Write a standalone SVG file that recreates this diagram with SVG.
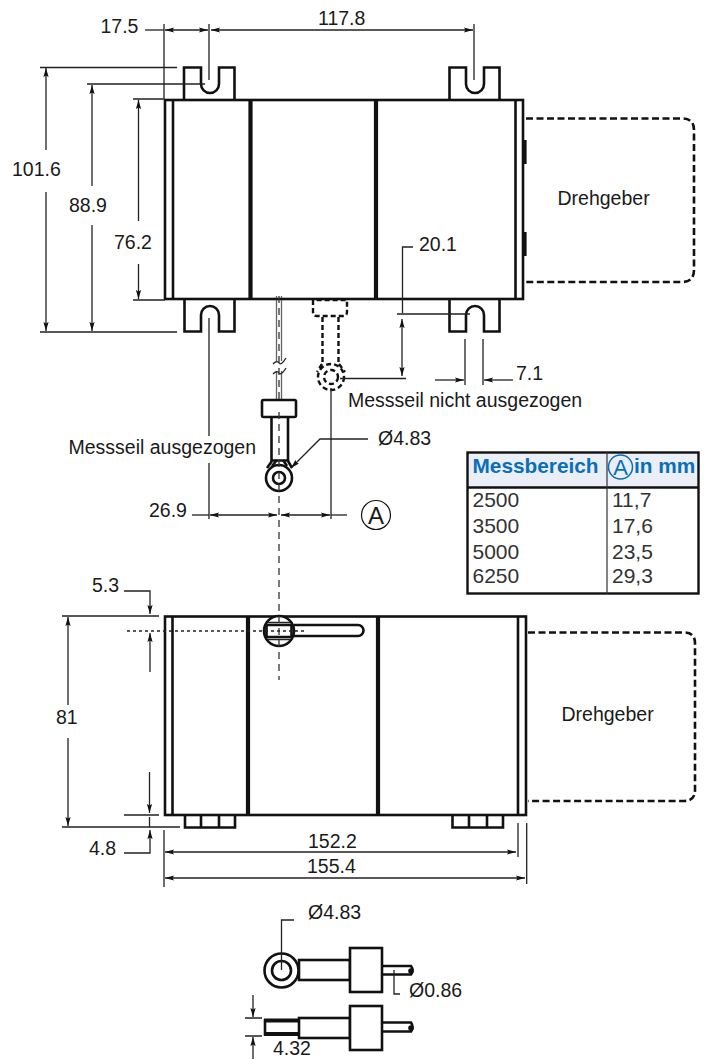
<svg xmlns="http://www.w3.org/2000/svg" width="705" height="1059" viewBox="0 0 705 1059">
<defs>
<marker id="arr" markerUnits="userSpaceOnUse" markerWidth="10" markerHeight="7" refX="9" refY="3.5" orient="auto-start-reverse"><path d="M0 .9L9 3.5L0 6.100L1.500 3.500Z" fill="#111"/></marker>
</defs>
<style>
text{font-family:"Liberation Sans",Arial,sans-serif;font-size:19.500px;fill:#1a1a1a}
.b{fill:#fff;stroke:#111;stroke-width:2.6;stroke-linejoin:miter}
.o{fill:none;stroke:#111;stroke-width:2.6}
.t{fill:none;stroke:#111;stroke-width:4.2}
.d{fill:none;stroke:#111;stroke-width:2.6;stroke-dasharray:7 3.5}
.dd{fill:none;stroke:#111;stroke-width:2.4;stroke-dasharray:5 3}
.l{fill:none;stroke:#222;stroke-width:1.3}
.c{fill:none;stroke:#333;stroke-width:1.3;stroke-dasharray:7 5}
.a{marker-end:url(#arr)}
.s{marker-start:url(#arr)}
.th{font-weight:bold;fill:#0a6fb7;font-size:20.800px}
.v{font-size:21px;fill:#333}
</style>
<rect width="705" height="1059" fill="#fff"/>

<g id="top-view">
<path class="b" d="M184 100V67.5H201V84A9 9 0 0 0 219 84V67.5H234.5V100"/>
<path class="b" d="M449.500 100V67.500H466V84A9 9 0 0 0 484 84V67.500H499.500V100"/>
<path class="b" d="M184.500 299V331.500H201V315A9 9 0 0 1 219 315V331.500H234.500V299"/>
<path class="b" d="M449.500 299V331.500H466V315A9 9 0 0 1 484 315V331.500H499.500V299"/>
<rect class="b" x="165" y="100" width="358" height="199"/>
<path class="o" d="M173 100V299M515.500 100V299"/>
<path class="t" d="M250.500 100V299M376 100V299"/>
<path class="t" d="M524.500 140V164M524.500 232V256"/>
</g>
<g id="encoder-top"><path class="d" d="M526 118.500H682Q694 118.500 694 130V270Q694 282 682 282H526"/><text x="557.500" y="205">Drehgeber</text></g>

<g id="cable-extended">
<path d="M276.500 296V361M276.500 371V400M281.500 296V361M281.500 371V400" class="l" stroke-opacity=".7"/>
<path class="l" d="M273 364Q277 360 279 363T286 358M273 374Q277 370 279 373T286 368"/>
<rect class="b" x="262" y="400" width="34" height="17" rx="1.500"/>
<path class="o" d="M271.500 417V460.500H288V417"/>
<path class="o" d="M272 461L267 468M288 461L292 468M277 460L272 466M283 460L287 466"/>
<circle class="b" cx="279" cy="478" r="13"/>
<circle class="o" cx="279" cy="478" r="6"/>
</g>
<g id="cable-retracted">
<path class="dd" d="M313 300V312Q313 316 317 316H343Q347 316 347 312V300H313"/>
<path class="dd" d="M322.500 317V362M338.500 317V362M322 364L317 372M339 364L345 372"/>
<circle class="dd" cx="331" cy="377" r="13"/>
<circle class="dd" cx="331" cy="377" r="7" stroke-dasharray="3.500 2.500"/>
</g>

<g id="side-view">
<path class="b" d="M185 815V827.500H235V815M452.500 815V827.500H503V815"/>
<path class="o" d="M201 815V827M219 815V827M469 815V827M487 815V827"/>
<rect class="b" x="165" y="616.500" width="361" height="198.500"/>
<path class="o" d="M172.500 616V815M518 616V815"/>
<path class="t" d="M248 616V815M378 616V815"/>
<circle class="b" cx="279" cy="631" r="15"/>
<path class="o" d="M294 625H358A5.500 5.500 0 0 1 358 636H294"/>
<path class="o" d="M266 625H292M266 637H292M266.500 625V637M291.500 625V637"/>
<path class="l" d="M268 622.500H290M268 639.500H290"/>
</g>
<g id="encoder-side"><path class="d" d="M528 632.500H684Q695 632.500 695 643V790Q695 801 684 801H528"/><text x="561.500" y="721">Drehgeber</text></g>

<g id="eyelet-top">
<rect class="b" x="299" y="960" width="51" height="20"/>
<rect class="b" x="350" y="948" width="32" height="44"/>
<path class="o" d="M382 966H411Q414 970 411 974.500H382"/>
<circle cx="411" cy="971" r="2.800" fill="#111"/>
<circle class="b" cx="281.500" cy="970.500" r="17"/>
<circle class="o" cx="281.500" cy="970.500" r="9.500"/>
</g>
<g id="eyelet-side">
<path class="t" d="M264 1020.500H299M264 1034H299"/>
<path class="o" d="M265 1019V1036"/>
<rect class="b" x="299" y="1018" width="51" height="20"/>
<rect class="b" x="350" y="1006" width="32" height="44"/>
<path class="o" d="M382 1022.500H411Q414 1027 411 1031.500H382"/>
<circle cx="411" cy="1028" r="2.800" fill="#111"/>
</g>

<g id="connectors">
<path class="l" d="M164 24V98M209 24V80M474 24V80"/>
<path class="l" d="M145 30H164"/>
<path class="l a s" d="M165 30H208"/>
<path class="l a s" d="M211 30H473"/>
<path class="l" d="M40 67.500H177M87 84H205M133 99H165M133 300H165M40 332H177"/>
<path class="l s" d="M46 68V150"/><path class="l a" d="M46 192V331"/>
<path class="l s" d="M92 85V186"/><path class="l a" d="M92 225V331"/>
<path class="l s" d="M138.500 100V221"/><path class="l a" d="M138.500 264V299"/>

<path class="l" d="M413 247H402.500V313M397 314H470M340 378.500H406"/>
<path class="l s" d="M402 319V340"/><path class="l a" d="M402 340V376"/>
<path class="l" d="M465 339V385M483 339V385"/>
<path class="l a" d="M435 380H464"/><path class="l a" d="M513 380H484"/>

<path class="l" d="M209 318V436M209 463V519M331 388V519"/>
<path class="l" d="M192 515H209"/>
<path class="l s a" d="M210 515H277"/><path class="l s a" d="M281 515H330"/>
<path class="l" d="M331 515H347"/>
<path class="c" d="M279 296V400M279 412V680"/>
<path class="l a" d="M368 439H320L291 468"/>

<path class="l" d="M62 616H159M124 815H159M62 827H180"/>
<path class="l s" d="M68 617V705"/><path class="l a" d="M68 738V826"/>
<path class="l a" d="M124 591H150V614"/>
<path class="l s" d="M150 633V672"/>
<path class="l a" d="M149.500 772V813"/>
<path class="l a" d="M124 853H150V830"/>
<path class="l" d="M149.500 817V827"/>
<path d="M127 631H305" fill="none" stroke="#222" stroke-width="1.300" stroke-dasharray="3 3"/>
<path class="l" d="M164 830V887M518 823V857M526.700 823V884"/>
<path class="l s a" d="M165 852H516"/>
<path class="l s a" d="M165 878H525"/>

<path class="l" d="M294 920H281.500V970" stroke-width="1.400"/>
<path class="l" d="M394 970V994H400" stroke-width="1.400"/>
<path class="l" d="M245 1018H262M245 1036H262"/>
<path class="l a" d="M253 995V1017"/>
<path class="l s" d="M253 1037V1059"/>
</g>

<g id="labels">
<text x="100.500" y="33">17.5</text>
<text x="318" y="25">117.8</text>
<text x="12" y="176">101.6</text>
<text x="69" y="212">88.9</text>
<text x="114" y="249">76.2</text>
<text x="419" y="251">20.1</text>
<text x="516" y="380">7.1</text>
<text x="348" y="407">Messseil nicht ausgezogen</text>
<text x="68.500" y="454">Messseil ausgezogen</text>
<text x="378" y="445">Ø4.83</text>
<text x="149" y="517">26.9</text>
<g id="marker-a"><circle cx="376" cy="515" r="14.500" fill="none" stroke="#111" stroke-width="1.200"/><text x="376" y="523.500" text-anchor="middle" style="font-size:24px">A</text></g>
<text x="92" y="592">5.3</text>
<text x="56" y="724">81</text>
<text x="89" y="855">4.8</text>
<text x="308" y="848">152.2</text>
<text x="307" y="873">155.4</text>
<text x="308" y="919">Ø4.83</text>
<text x="409" y="997">Ø0.86</text>
<text x="273" y="1054.500">4.32</text>
</g>

<g id="table">
<rect x="467.500" y="452.500" width="231" height="35" fill="#e9eef7"/>
<rect x="467.500" y="452.500" width="231" height="141" fill="none" stroke="#111" stroke-width="2.400"/>
<path d="M467 487.500H699" stroke="#111" stroke-width="2.600" fill="none"/>
<path d="M607 452V594" stroke="#333" stroke-width="1.200" fill="none"/>
<text class="th" x="472.500" y="473">Messbereich</text>
<circle cx="620.500" cy="467" r="12" fill="none" stroke="#0a6fb7" stroke-width="1.500"/>
<text class="th" x="620.500" y="475" text-anchor="middle" style="font-weight:normal;font-size:22px">A</text>
<text class="th" x="634" y="473">in mm</text>
<text class="v" x="472.500" y="507">2500</text><text class="v" x="612" y="507">11,7</text>
<text class="v" x="472.500" y="533">3500</text><text class="v" x="612" y="533">17,6</text>
<text class="v" x="472.500" y="559">5000</text><text class="v" x="612" y="559">23,5</text>
<text class="v" x="472.500" y="583">6250</text><text class="v" x="612" y="583">29,3</text>
</g>
</svg>
